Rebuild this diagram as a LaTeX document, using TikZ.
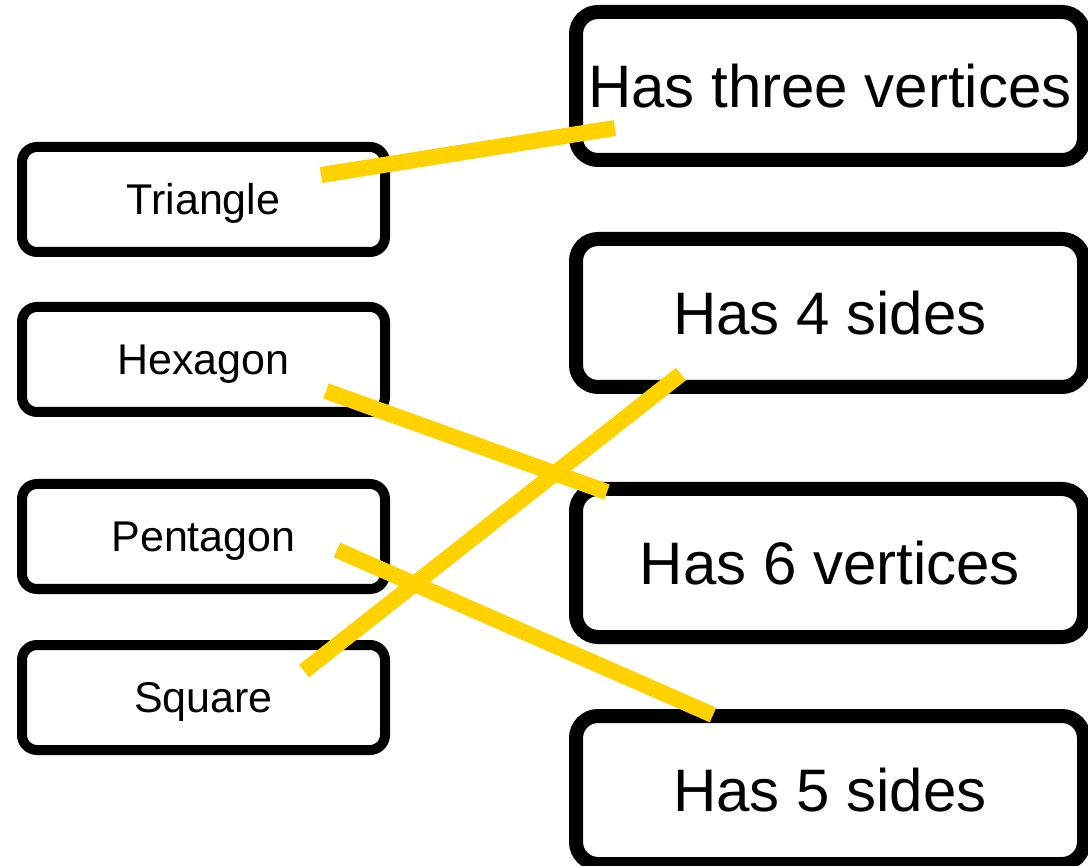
\documentclass[tikz,border=0pt]{standalone}
\usepackage{fontspec}
\setmainfont{Liberation Sans}
\definecolor{linkyellow}{HTML}{FFD200}
\begin{document}
\begin{tikzpicture}[x=1pt,y=-1pt,
  leftbox/.style={draw=black,line width=10pt,rounded corners=15pt,minimum width=363pt,minimum height=105pt,inner sep=0pt,font=\fontsize{43}{52}\selectfont,text height=30.8pt,text depth=0pt},
  rightbox/.style={draw=black,line width=14pt,rounded corners=22pt,minimum width=508pt,minimum height=148pt,inner sep=0pt,font=\fontsize{60}{72}\selectfont,text height=43pt,text depth=0pt},
  link/.style={draw=linkyellow,line width=16pt}]
\useasboundingbox (0,0) rectangle (1088,866);
\node[leftbox] (tri) at (203.5,199.5) {Triangle};
\node[leftbox] (hex) at (203.5,359.5) {Hexagon};
\node[leftbox] (pen) at (203.5,536.5) {Pentagon};
\node[leftbox] (squ) at (203.5,697.5) {Square};
\node[rightbox] (three) at (830,86) {Has three vertices};
\node[rightbox] (four) at (830,313) {Has 4 sides};
\node[rightbox] (six) at (830,563) {Has 6 vertices};
\node[rightbox] (five) at (830,790) {Has 5 sides};
\draw[link] ([shift={(117.5,-24.5)}]tri.center) -- ([shift={(-215,42)}]three.center);
\draw[link] ([shift={(122.5,31.5)}]hex.center) -- ([shift={(-223,-71)}]six.center);
\draw[link] ([shift={(-149,61)}]four.center) -- ([shift={(100.5,-26.5)}]squ.center);
\draw[link] ([shift={(133.5,13.5)}]pen.center) -- ([shift={(-117,-75)}]five.center);
\end{tikzpicture}
\end{document}
